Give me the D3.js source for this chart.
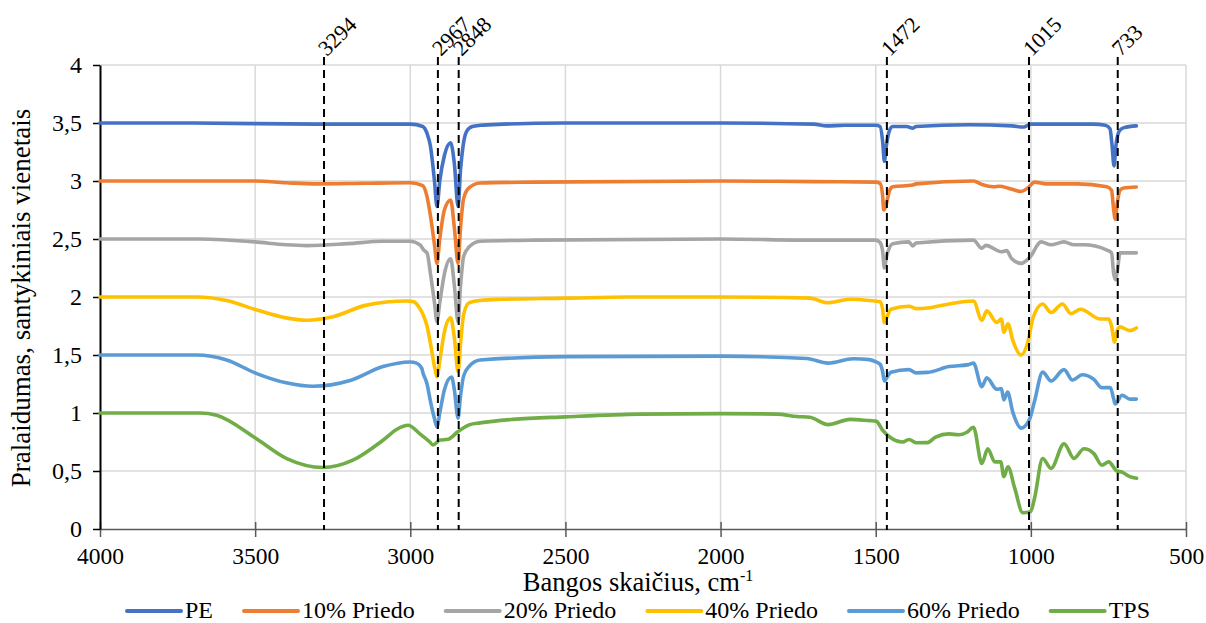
<!DOCTYPE html>
<html>
<head>
<meta charset="utf-8">
<script src="https://cdn.jsdelivr.net/npm/d3@7/dist/d3.min.js"></script>
<style>
  body { margin: 0; background: #fff; }
  text { font-family: "Liberation Serif", "Times New Roman", serif; fill: #000; }
</style>
</head>
<body>
<svg id="chart" width="1206" height="623"></svg>
<script>
// FTIR spectra, wavenumber (cm-1) -> transmittance (offset per sample)
const pe = [
  [4000,3.50],[3700,3.50],[3300,3.49],[3100,3.49],[3000,3.49],[2960,3.47],[2946,3.41],[2935,3.30],
  [2922,3.00],[2914,2.78],[2905,3.00],[2890,3.22],[2870,3.33],[2858,3.15],[2846,2.78],[2838,3.10],
  [2830,3.30],[2818,3.43],[2800,3.47],[2775,3.48],[2700,3.49],[2500,3.50],[2300,3.50],[2000,3.50],
  [1700,3.49],[1658,3.475],[1600,3.48],[1500,3.48],[1486,3.47],[1478,3.35],[1472,3.17],[1466,3.30],
  [1455,3.44],[1445,3.47],[1400,3.47],[1381,3.455],[1370,3.47],[1200,3.485],[1060,3.475],[1026,3.465],
  [1010,3.48],[1000,3.49],[800,3.49],[760,3.48],[745,3.45],[738,3.30],[732,3.13],[726,3.30],
  [715,3.43],[700,3.46],[660,3.475]
];
const priedo10 = [
  [4000,3.00],[3500,3.00],[3400,2.985],[3300,2.975],[3150,2.98],[3000,2.985],[2960,2.96],[2946,2.865],
  [2935,2.70],[2922,2.45],[2914,2.29],[2905,2.50],[2890,2.75],[2870,2.836],[2858,2.60],[2846,2.29],
  [2838,2.60],[2828,2.85],[2811,2.94],[2775,2.983],[2600,2.99],[2000,3.00],[1700,2.995],[1500,2.99],
  [1486,2.98],[1478,2.88],[1474,2.75],[1466,2.80],[1455,2.92],[1445,2.95],[1381,2.965],[1370,2.975],
  [1185,3.00],[1158,2.97],[1120,2.95],[1100,2.955],[1075,2.94],[1050,2.92],[1031,2.91],[1010,2.94],
  [988,2.99],[950,2.975],[850,2.975],[755,2.95],[740,2.92],[733,2.75],[728,2.67],[722,2.80],
  [713,2.92],[701,2.94],[660,2.948]
];
const priedo20 = [
  [4000,2.50],[3680,2.50],[3500,2.475],[3400,2.45],[3334,2.443],[3200,2.46],[3088,2.48],[3001,2.48],
  [2969,2.45],[2955,2.40],[2946,2.38],[2935,2.20],[2922,1.95],[2914,1.787],[2905,1.95],[2890,2.20],
  [2870,2.33],[2858,2.10],[2846,1.785],[2838,2.10],[2828,2.35],[2811,2.43],[2775,2.48],[2600,2.49],
  [2000,2.50],[1700,2.49],[1500,2.49],[1486,2.47],[1478,2.40],[1472,2.25],[1465,2.35],[1445,2.46],
  [1393,2.475],[1381,2.44],[1370,2.465],[1185,2.49],[1158,2.42],[1145,2.445],[1095,2.39],[1078,2.40],
  [1063,2.335],[1031,2.29],[1004,2.34],[967,2.475],[935,2.45],[893,2.475],[861,2.45],[830,2.45],
  [755,2.405],[740,2.38],[733,2.20],[728,2.15],[720,2.25],[713,2.38],[700,2.38],[660,2.38]
];
const priedo40 = [
  [4000,2.00],[3688,2.00],[3592,1.97],[3497,1.89],[3400,1.82],[3334,1.80],[3249,1.83],[3141,1.93],
  [3012,1.965],[2990,1.96],[2969,1.90],[2959,1.85],[2946,1.75],[2935,1.60],[2922,1.40],[2914,1.31],
  [2905,1.45],[2890,1.70],[2870,1.82],[2858,1.65],[2846,1.356],[2838,1.60],[2828,1.85],[2811,1.95],
  [2775,1.97],[2711,1.98],[2498,1.99],[2300,2.00],[2000,2.00],[1712,1.99],[1654,1.95],[1583,1.98],
  [1520,1.97],[1486,1.96],[1478,1.90],[1472,1.78],[1465,1.82],[1451,1.894],[1393,1.92],[1370,1.90],
  [1333,1.905],[1264,1.94],[1185,1.965],[1158,1.80],[1142,1.88],[1110,1.78],[1095,1.81],[1087,1.695],
  [1074,1.77],[1058,1.624],[1031,1.50],[1010,1.61],[993,1.82],[962,1.94],[935,1.866],[898,1.94],
  [871,1.857],[840,1.894],[776,1.81],[749,1.81],[740,1.75],[730,1.61],[723,1.70],[713,1.743],
  [681,1.71],[660,1.733]
];
const priedo60 = [
  [4000,1.50],[3688,1.50],[3592,1.457],[3497,1.342],[3400,1.26],[3314,1.23],[3194,1.28],[3088,1.40],
  [3001,1.44],[2980,1.43],[2963,1.385],[2959,1.345],[2946,1.25],[2935,1.10],[2922,0.95],[2914,0.88],
  [2905,1.00],[2890,1.20],[2867,1.31],[2858,1.20],[2846,0.956],[2838,1.15],[2828,1.32],[2811,1.40],
  [2775,1.457],[2498,1.486],[2000,1.49],[1722,1.47],[1654,1.43],[1573,1.468],[1520,1.46],[1499,1.44],
  [1486,1.42],[1478,1.36],[1472,1.276],[1465,1.30],[1451,1.352],[1393,1.374],[1370,1.346],[1333,1.35],
  [1264,1.40],[1201,1.417],[1185,1.431],[1158,1.227],[1142,1.304],[1110,1.205],[1095,1.21],[1087,1.113],
  [1075,1.18],[1058,1.005],[1031,0.87],[1004,0.948],[988,1.104],[962,1.352],[935,1.276],[893,1.374],
  [866,1.284],[834,1.33],[797,1.29],[771,1.218],[744,1.22],[733,1.12],[728,1.078],[706,1.153],
  [681,1.12],[660,1.12]
];
const tps = [
  [4000,1.00],[3678,1.00],[3624,0.98],[3497,0.78],[3398,0.607],[3281,0.53],[3185,0.593],[3088,0.765],
  [3043,0.86],[3007,0.894],[2969,0.82],[2937,0.75],[2927,0.724],[2904,0.767],[2879,0.773],[2846,0.84],
  [2808,0.90],[2775,0.915],[2669,0.945],[2498,0.967],[2260,0.99],[1999,0.995],[1818,0.99],[1754,0.97],
  [1712,0.963],[1654,0.90],[1583,0.945],[1519,0.934],[1499,0.93],[1477,0.849],[1455,0.793],[1413,0.75],
  [1393,0.772],[1370,0.744],[1333,0.745],[1307,0.793],[1264,0.82],[1232,0.812],[1206,0.834],[1185,0.877],
  [1158,0.565],[1139,0.692],[1116,0.579],[1097,0.579],[1087,0.451],[1074,0.536],[1052,0.352],[1026,0.14],
  [1001,0.15],[988,0.267],[962,0.608],[935,0.522],[893,0.735],[861,0.608],[829,0.692],[797,0.65],
  [771,0.55],[749,0.579],[723,0.50],[706,0.49],[681,0.451],[659,0.437]
];

const seriesNames = ['PE', '10% Priedo', '20% Priedo', '40% Priedo', '60% Priedo', 'TPS'];
const seriesData = [pe, priedo10, priedo20, priedo40, priedo60, tps];
const seriesColors = ['#4472C4', '#ED7D31', '#A5A5A5', '#FFC000', '#5B9BD5', '#70AD47'];

// marked bands: where the dashed line sits, and the label written on it
const peakLines = [3278, 2911, 2844, 1464, 1006, 720];
const peakLabels = ['3294', '2967', '2848', '1472', '1015', '733'];

const xTicks = [4000, 3500, 3000, 2500, 2000, 1500, 1000, 500];
const yTicks = [0, 0.5, 1, 1.5, 2, 2.5, 3, 3.5, 4];

const serif = '"Liberation Serif", "Times New Roman", serif';
const svg = d3.select('#chart');
const plotLeft = 100, plotRight = 1186, plotTop = 65, plotBottom = 529;

const x = d3.scaleLinear().domain([4000, 500]).range([plotLeft, plotRight]);
const y = d3.scaleLinear().domain([0, 4]).range([plotBottom, plotTop]);
const fmt = v => String(v).replace('.', ',');

// gridlines
svg.append('g').selectAll('line')
  .data(yTicks.filter(v => v > 0))
  .enter().append('line')
  .attr('x1', plotLeft).attr('x2', plotRight)
  .attr('y1', d => y(d)).attr('y2', d => y(d))
  .attr('stroke', '#d9d9d9').attr('stroke-width', 1.5);
svg.append('g').selectAll('line')
  .data(xTicks.filter(v => v < 4000))
  .enter().append('line')
  .attr('x1', d => x(d)).attr('x2', d => x(d))
  .attr('y1', plotTop).attr('y2', plotBottom)
  .attr('stroke', '#d9d9d9').attr('stroke-width', 1.5);

// x axis (ticks cross the line)
const xAxis = svg.append('g').attr('transform', `translate(0,${plotBottom})`)
  .call(d3.axisBottom(x).tickValues(xTicks).tickSizeInner(8).tickSizeOuter(0).tickPadding(10).tickFormat(d => d))
  .attr('font-family', serif);
xAxis.select('.domain').attr('stroke', '#595959').attr('stroke-width', 1.5);
xAxis.selectAll('.tick line').attr('stroke', '#595959').attr('stroke-width', 1.5).attr('y1', -7);
xAxis.selectAll('.tick text').attr('font-size', 23.5).attr('fill', '#000');

// y axis
const yAxis = svg.append('g').attr('transform', `translate(${plotLeft},0)`)
  .call(d3.axisLeft(y).tickValues(yTicks).tickSizeInner(7).tickSizeOuter(0).tickPadding(11).tickFormat(fmt))
  .attr('font-family', serif);
yAxis.select('.domain').attr('stroke', '#000').attr('stroke-width', 2);
yAxis.selectAll('.tick line').attr('stroke', '#000').attr('stroke-width', 1.5);
yAxis.selectAll('.tick text').attr('font-size', 24).attr('fill', '#000');

// spectra
const line = d3.line()
  .x(d => x(d[0]))
  .y(d => y(d[1]))
  .curve(d3.curveMonotoneX);

svg.append('g').selectAll('path')
  .data(seriesData)
  .enter().append('path')
  .attr('d', d => line(d))
  .attr('fill', 'none')
  .attr('stroke', (d, i) => seriesColors[i])
  .attr('stroke-width', 3.6)
  .attr('stroke-linejoin', 'round')
  .attr('stroke-linecap', 'round');

// dashed marker lines with rotated labels
const peaks = svg.append('g');
peakLines.forEach((p, i) => {
  peaks.append('line')
    .attr('x1', x(p)).attr('x2', x(p))
    .attr('y1', 57).attr('y2', plotBottom + 1)
    .attr('stroke', '#000').attr('stroke-width', 2)
    .attr('stroke-dasharray', '8,5');
  peaks.append('text')
    .attr('transform', `translate(${x(p) + 3},57) rotate(-45)`)
    .attr('font-size', 22)
    .text(peakLabels[i]);
});

// axis titles
svg.append('text')
  .attr('transform', `translate(30,298) rotate(-90)`)
  .attr('text-anchor', 'middle')
  .attr('font-size', 27)
  .text('Pralaidumas, santykiniais vienetais');

const xt = svg.append('text')
  .attr('x', 638).attr('y', 591)
  .attr('text-anchor', 'middle')
  .attr('font-size', 26.5);
xt.append('tspan').text('Bangos skaičius, cm');
xt.append('tspan').attr('font-size', 16).attr('dy', -10).text('-1');

// legend
const legend = svg.append('g').attr('transform', 'translate(127,611)');
let lx = 0;
seriesNames.forEach((name, i) => {
  const g = legend.append('g').attr('transform', `translate(${lx},0)`);
  g.append('line').attr('x1', 0).attr('x2', 54).attr('y1', 0).attr('y2', 0)
    .attr('stroke', seriesColors[i]).attr('stroke-width', 4).attr('stroke-linecap', 'round');
  const t = g.append('text').attr('x', 58).attr('y', 6.5).attr('font-size', 24).text(name);
  lx += 58 + t.node().getComputedTextLength() + 31;
});
</script>
</body>
</html>
